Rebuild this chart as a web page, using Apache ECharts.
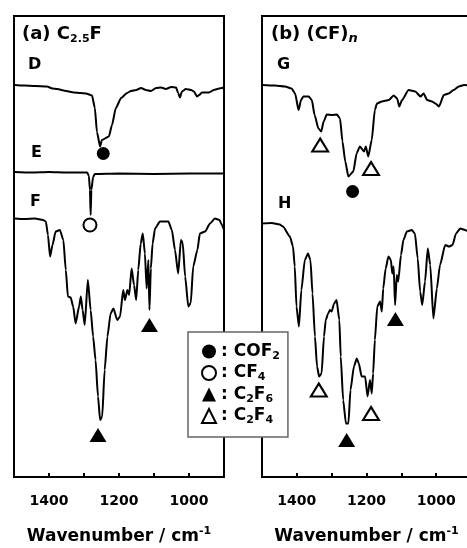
<!DOCTYPE html>
<html>
<head>
<meta charset="utf-8">
<script src="https://cdn.jsdelivr.net/npm/echarts@6/dist/echarts.min.js"></script>
<style>
  html, body { margin: 0; padding: 0; background: #fff; }
  #chart { width: 467px; height: 548px; }
</style>
</head>
<body>
<div id="chart"></div>
<script>
// IR spectra, wavenumber (cm-1) vs transmittance (a.u., traces offset)
const traceD = [[1500,78.4],[1470,78.3],[1440,78.2],[1406,78.1],[1390,77.7],[1377,77.6],[1351,77.2],[1329,76.9],[1310,76.8],[1294,76.7],[1277,76.3],[1269,73.8],[1263,69.0],[1254,66.1],[1249,67.4],[1229,68.1],[1220,70.4],[1209,73.8],[1194,75.8],[1177,76.8],[1166,77.2],[1151,77.4],[1137,77.8],[1123,77.4],[1109,77.2],[1094,77.8],[1080,77.9],[1066,77.6],[1051,78.0],[1037,77.9],[1031,76.8],[1026,75.9],[1020,77.1],[1009,77.6],[994,77.4],[986,77.1],[977,76.1],[971,76.4],[963,76.9],[943,76.9],[929,77.4],[914,77.7],[900,77.9]];
const traceE = [[1500,61.0],[1450,60.9],[1400,61.0],[1350,60.9],[1300,60.9],[1291,60.9],[1286,60.2],[1283,57.4],[1281,52.4],[1279,57.4],[1274,60.0],[1269,60.6],[1200,60.7],[1100,60.6],[1000,60.7],[900,60.7]];
const traceF = [[1500,51.7],[1469,51.6],[1440,51.7],[1417,51.4],[1409,51.1],[1403,48.4],[1397,44.1],[1390,46.4],[1381,49.1],[1369,49.4],[1359,47.4],[1352,41.4],[1346,36.1],[1338,35.9],[1331,34.1],[1324,30.7],[1314,34.1],[1309,36.1],[1304,33.4],[1298,30.4],[1289,39.4],[1281,33.4],[1274,28.1],[1267,23.4],[1260,16.1],[1254,11.4],[1248,12.1],[1241,21.4],[1233,28.1],[1224,32.7],[1216,33.7],[1205,31.4],[1197,32.1],[1188,37.4],[1183,35.4],[1176,37.4],[1171,36.4],[1164,41.7],[1157,38.4],[1151,35.4],[1145,41.4],[1138,46.7],[1132,48.7],[1126,44.7],[1121,37.7],[1116,43.4],[1113,33.4],[1109,41.7],[1104,46.7],[1097,49.7],[1083,51.1],[1059,51.1],[1049,49.4],[1040,45.4],[1031,40.7],[1023,47.4],[1018,46.8],[1011,40.1],[1002,34.1],[995,34.8],[988,42.1],[976,45.4],[969,48.7],[954,49.1],[940,50.7],[926,51.7],[913,51.4],[906,50.4],[900,49.4]];
const traceG = [[1500,78.4],[1463,78.3],[1434,78.1],[1415,77.7],[1405,76.7],[1395,73.4],[1388,75.4],[1381,76.1],[1366,76.1],[1357,75.4],[1349,72.4],[1338,69.7],[1330,69.1],[1323,71.1],[1314,72.5],[1299,72.4],[1285,72.5],[1276,71.7],[1269,67.1],[1261,63.1],[1252,60.1],[1238,61.1],[1228,64.8],[1219,66.1],[1207,65.1],[1202,66.1],[1195,64.1],[1185,67.4],[1176,73.4],[1170,74.7],[1156,75.1],[1136,75.4],[1122,76.3],[1112,75.7],[1106,74.1],[1098,75.4],[1079,77.4],[1060,77.1],[1045,76.1],[1036,76.7],[1026,75.4],[1012,75.1],[1002,74.7],[992,74.1],[978,76.4],[964,76.7],[950,77.4],[935,78.1],[920,78.4],[900,78.3]];
const traceH = [[1500,50.7],[1472,50.8],[1449,50.5],[1440,50.1],[1420,48.1],[1411,46.1],[1406,42.1],[1401,34.1],[1394,30.1],[1387,37.4],[1377,43.4],[1368,44.7],[1361,43.4],[1355,36.7],[1348,28.1],[1342,22.1],[1336,20.1],[1329,20.7],[1322,28.1],[1317,31.4],[1310,32.7],[1305,33.4],[1300,33.1],[1293,34.7],[1286,35.4],[1278,31.4],[1274,24.1],[1267,15.4],[1259,10.7],[1252,10.7],[1246,17.4],[1236,22.1],[1228,23.7],[1222,22.7],[1214,20.1],[1204,20.1],[1197,16.1],[1190,19.4],[1185,16.7],[1181,20.7],[1176,27.4],[1169,34.1],[1161,35.1],[1156,33.1],[1152,37.7],[1145,41.7],[1137,44.1],[1130,43.4],[1126,40.7],[1122,42.1],[1118,34.4],[1113,40.4],[1109,39.1],[1101,44.4],[1094,47.4],[1084,49.1],[1070,49.4],[1061,48.7],[1053,43.7],[1046,37.1],[1040,34.4],[1032,39.1],[1024,45.7],[1017,42.4],[1008,31.7],[998,37.7],[989,42.4],[974,46.4],[963,46.1],[953,46.4],[943,48.7],[931,49.7],[917,49.4],[900,48.6]];

// band assignments (marker positions)
const cof2Left = [[1245,64.7]];
const cf4Left = [[1283,50.4]];
const c2f6Left = [[1260,8.4],[1113,30.4]];
const cof2Right = [[1240,57.1]];
const c2f6Right = [[1257,7.4],[1117,31.6]];
const c2f4Right = [[1333,66.4],[1187,61.7],[1337,17.4],[1187,12.7]];

const tickLabels = [1400, 1200, 1000];

const FONT = 'DejaVu Sans';
const rich = {
  b: { fontFamily: FONT, fontWeight: 'bold', fontSize: 18, lineHeight: 22, color: '#000' },
  s: { fontFamily: FONT, fontWeight: 'bold', fontSize: 11, lineHeight: 10, verticalAlign: 'bottom', color: '#000' },
  si: { fontFamily: FONT, fontWeight: 'bold', fontStyle: 'italic', fontSize: 13, lineHeight: 10, verticalAlign: 'bottom', color: '#000' },
  l: { fontFamily: FONT, fontWeight: 'bold', fontSize: 17, lineHeight: 20, color: '#000' },
  ls: { fontFamily: FONT, fontWeight: 'bold', fontSize: 11, lineHeight: 9, verticalAlign: 'bottom', color: '#000' },
  t: { fontFamily: FONT, fontWeight: 'bold', fontSize: 17, lineHeight: 22, color: '#000' },
  sup: { fontFamily: FONT, fontWeight: 'bold', fontSize: 11, lineHeight: 10, verticalAlign: 'top', color: '#000' }
};
const legendNames = {
  'COF2': '{l|: COF}{ls|2}',
  'CF4': '{l|: CF}{ls|4}',
  'C2F6': '{l|: C}{ls|2}{l|F}{ls|6}',
  'C2F4': '{l|: C}{ls|2}{l|F}{ls|4}'
};

function makeX(idx) {
  return {
    type: 'value', gridIndex: idx, min: 900, max: 1500, interval: 100, inverse: true,
    axisLine: { show: true, lineStyle: { color: '#000', width: 2 } },
    axisTick: { inside: true, length: 4, lineStyle: { color: '#000', width: 2 } },
    splitLine: { show: false },
    axisLabel: {
      margin: 17, color: '#000', fontFamily: FONT, fontWeight: 'bold', fontSize: 14,
      formatter: v => (tickLabels.indexOf(v) >= 0 ? String(v) : '')
    },
    name: '{t|Wavenumber / cm}{sup|-1}',
    nameLocation: 'middle', nameGap: 49,
    nameTextStyle: { rich: rich }
  };
}
function makeY(idx) {
  return { type: 'value', gridIndex: idx, min: 0, max: 92.2, show: false };
}
function trace(data, idx) {
  return {
    type: 'line', xAxisIndex: idx, yAxisIndex: idx, data: data,
    showSymbol: false, smooth: 0.2, smoothMonotone: 'x', silent: true,
    lineStyle: { color: '#000', width: 2 }
  };
}
function marks(name, data, idx, symbol, size) {
  const empty = symbol.indexOf('empty') === 0;
  return {
    type: 'scatter', name: name, xAxisIndex: idx, yAxisIndex: idx, data: data,
    symbol: symbol, symbolSize: size, z: 5,
    itemStyle: empty ? { color: '#000', borderColor: '#000', borderWidth: 2.5, opacity: 1 }
                     : { color: '#000', opacity: 1 }
  };
}

const chart = echarts.init(document.getElementById('chart'), null, { renderer: 'canvas' });
chart.setOption({
  animation: false,
  backgroundColor: '#fff',
  grid: [
    { left: 14, top: 16, width: 210, height: 461, show: true, borderColor: '#000', borderWidth: 2, containLabel: false, outerBoundsMode: 'none' },
    { left: 262, top: 16, width: 209, height: 461, show: true, borderColor: '#000', borderWidth: 2, containLabel: false, outerBoundsMode: 'none' }
  ],
  xAxis: [makeX(0), makeX(1)],
  yAxis: [makeY(0), makeY(1)],
  legend: {
    left: 188, top: 332, orient: 'vertical', selectedMode: false,
    padding: [11, 8, 11, 13], itemGap: 3, itemWidth: 14, itemHeight: 14,
    backgroundColor: '#fff', borderColor: '#666', borderWidth: 1.5, z: 10,
    data: [
      { name: 'COF2', icon: 'circle' },
      { name: 'CF4', icon: 'emptyCircle' },
      { name: 'C2F6', icon: 'triangle' },
      { name: 'C2F4', icon: 'emptyTriangle' }
    ],
    formatter: name => legendNames[name],
    textStyle: { rich: rich }
  },
  graphic: [
    { type: 'text', left: 22, top: 25, style: { text: '{b|(a) C}{s|2.5}{b|F}', rich: rich } },
    { type: 'text', left: 271, top: 25, style: { text: '{b|(b) (CF)}{si|n}', rich: rich } },
    { type: 'text', left: 28, top: 57, style: { text: 'D', fontFamily: FONT, fontWeight: 'bold', fontSize: 16, fill: '#000' } },
    { type: 'text', left: 31, top: 145, style: { text: 'E', fontFamily: FONT, fontWeight: 'bold', fontSize: 16, fill: '#000' } },
    { type: 'text', left: 30, top: 194, style: { text: 'F', fontFamily: FONT, fontWeight: 'bold', fontSize: 16, fill: '#000' } },
    { type: 'text', left: 277, top: 57, style: { text: 'G', fontFamily: FONT, fontWeight: 'bold', fontSize: 16, fill: '#000' } },
    { type: 'text', left: 278, top: 196, style: { text: 'H', fontFamily: FONT, fontWeight: 'bold', fontSize: 16, fill: '#000' } }
  ],
  series: [
    trace(traceD, 0), trace(traceE, 0), trace(traceF, 0),
    trace(traceG, 1), trace(traceH, 1),
    marks('COF2', cof2Left, 0, 'circle', 13),
    marks('CF4', cf4Left, 0, 'emptyCircle', 13),
    marks('C2F6', c2f6Left, 0, 'triangle', [17, 14]),
    marks('COF2', cof2Right, 1, 'circle', 13),
    marks('C2F6', c2f6Right, 1, 'triangle', [17, 14]),
    marks('C2F4', c2f4Right, 1, 'emptyTriangle', [16, 13])
  ]
});
</script>
</body>
</html>
